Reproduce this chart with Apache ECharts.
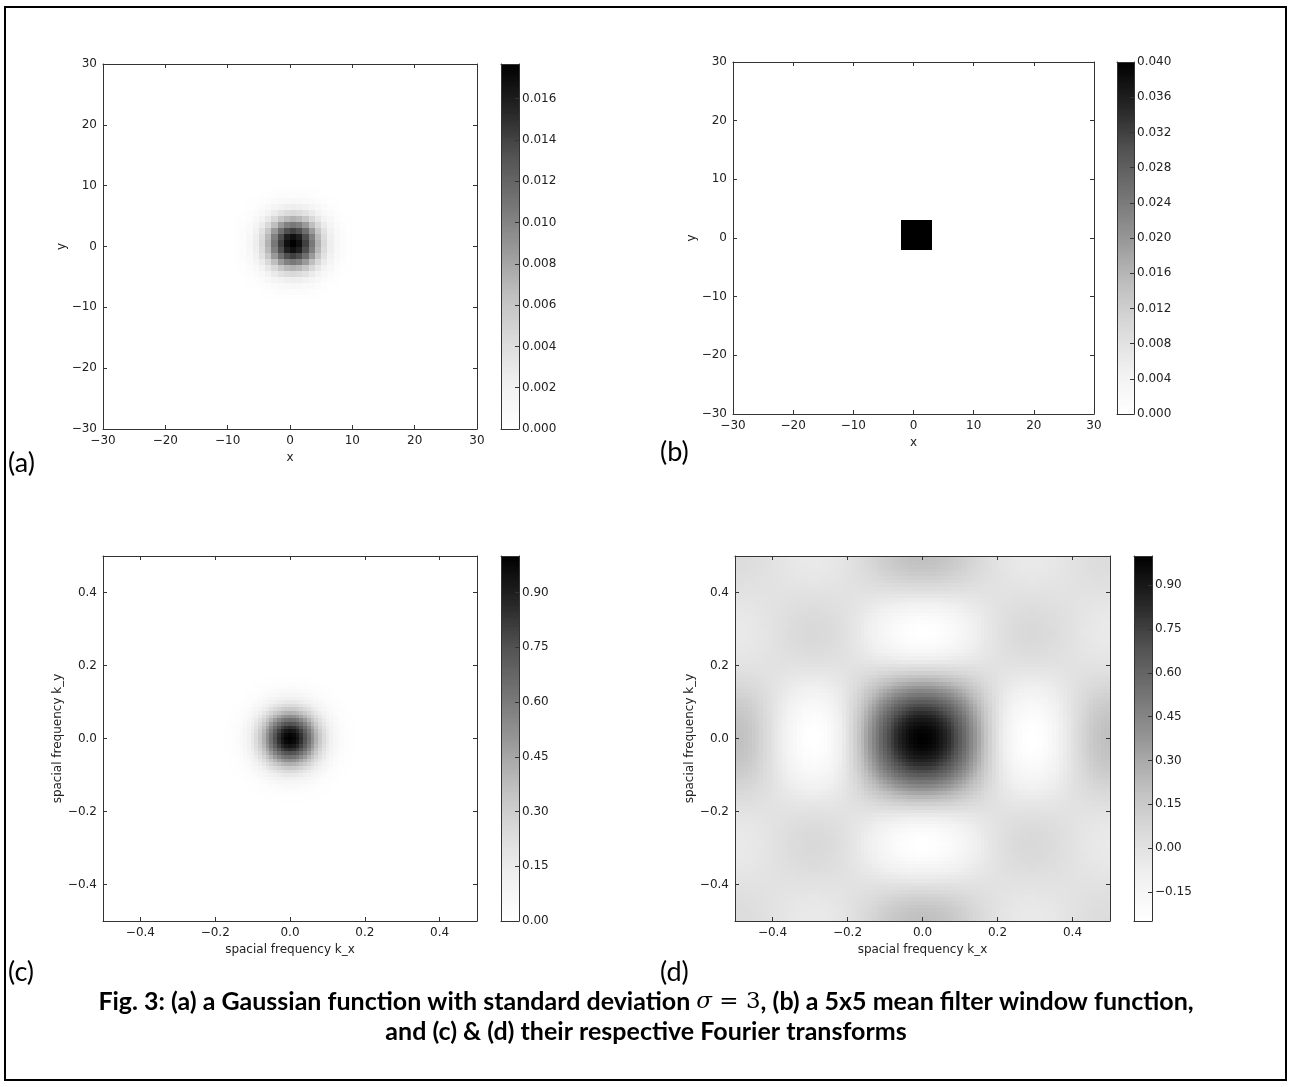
<!DOCTYPE html>
<html>
<head>
<meta charset="utf-8">
<script src="https://cdn.jsdelivr.net/npm/echarts@6.0.0/dist/echarts.min.js"></script>
<style>
  html, body { margin: 0; padding: 0; background: #fff; }
  #chart { width: 1292px; height: 1087px; }
</style>
</head>
<body>
<div id="chart"></div>
<script>
// ---- values ----
// (a) gaussian, sigma = 3: fall-off along one axis for |x| = 0..12 (0 further out)
const gaussProfile = [1, 0.946, 0.8007, 0.6065, 0.4111, 0.2494, 0.1353, 0.0657, 0.0286, 0.0111, 0.0039, 0.0012, 0.0003];
const gaussPeak = 0.01768;
// (b) 5x5 mean filter
const boxCells = [-2, -1, 0, 1, 2];
const boxValue = 0.04;
// (c) fourier transform of (a), along one axis for |k| = 0.00..0.50
const ftGaussProfile = [1, 0.9824, 0.9314, 0.8522, 0.7526, 0.6414, 0.5276, 0.4188, 0.3208, 0.2372,
  0.1692, 0.1165, 0.0774, 0.0497, 0.0307, 0.0184, 0.0106, 0.0059, 0.0032, 0.0016,
  0.0008, 0.0004, 0.0002, 0.0001, 0, 0, 0, 0, 0, 0,
  0, 0, 0, 0, 0, 0, 0, 0, 0, 0,
  0, 0, 0, 0, 0, 0, 0, 0, 0, 0, 0];
// (d) fourier transform of (b), along one axis for |k| = 0.00..0.50
const ftBoxProfile = [1, 0.9961, 0.9843, 0.9648, 0.938, 0.904, 0.8635, 0.8169, 0.7649, 0.708,
  0.6472, 0.5832, 0.5167, 0.4487, 0.38, 0.3115, 0.244, 0.1784, 0.1153, 0.0557,
  0, -0.051, -0.097, -0.1373, -0.1717, -0.2, -0.222, -0.2376, -0.2469, -0.25,
  -0.2472, -0.2388, -0.2253, -0.207, -0.1846, -0.1587, -0.1299, -0.0989, -0.0665, -0.0333,
  0, 0.0326, 0.0638, 0.093, 0.1197, 0.1432, 0.1631, 0.179, 0.1906, 0.1976, 0.2];

const spaceTicks = [-30, -20, -10, 0, 10, 20, 30];
const freqTicks = [-0.4, -0.2, 0, 0.2, 0.4];
const barTicksA = [0, 0.002, 0.004, 0.006, 0.008, 0.010, 0.012, 0.014, 0.016];
const barTicksB = [0, 0.004, 0.008, 0.012, 0.016, 0.020, 0.024, 0.028, 0.032, 0.036, 0.040];
const barTicksC = [0, 0.15, 0.30, 0.45, 0.60, 0.75, 0.90];
const barTicksD = [-0.15, 0, 0.15, 0.30, 0.45, 0.60, 0.75, 0.90];
const rangeA = [0, 0.01768];
const rangeB = [0, 0.04];
const rangeC = [0, 1];
const rangeD = [-0.25, 1];

// matplotlib "Greys"
const greys = ['#ffffff', '#f0f0f0', '#d9d9d9', '#bdbdbd', '#969696', '#737373', '#525252', '#252525', '#000000'];

// ---- build the grids of cells ----
let cellsA = [];
let cellsB = [];
for (let i = -30; i < 30; i++) {
    for (let j = -30; j < 30; j++) {
        let hx = gaussProfile[Math.abs(i)] || 0;
        let hy = gaussProfile[Math.abs(j)] || 0;
        cellsA.push([i, j, gaussPeak * hx * hy]);
        let inBox = boxCells.includes(i) && boxCells.includes(j);
        cellsB.push([i, j, inBox ? boxValue : 0]);
    }
}
let cellsC = [];
let cellsD = [];
for (let i = -50; i <= 50; i++) {
    for (let j = -50; j <= 50; j++) {
        let kx = i / 100, ky = j / 100;
        cellsC.push([kx, ky, ftGaussProfile[Math.abs(i)] * ftGaussProfile[Math.abs(j)]]);
        cellsD.push([kx, ky, ftBoxProfile[Math.abs(i)] * ftBoxProfile[Math.abs(j)]]);
    }
}
function barSlices(range) {
    let out = [];
    let n = 150;
    let step = (range[1] - range[0]) / n;
    for (let s = 0; s < n; s++) {
        let lo = range[0] + s * step;
        out.push([lo, lo + step, lo + step / 2]);
    }
    return out;
}

// ---- layout ----
const plots = [
    { box: [103, 64, 374, 365], bar: [501, 64, 18, 365], lim: [-30, 30], ticks: spaceTicks, digits: 0,
      xName: 'x', yName: 'y', cells: cellsA, w: 1, off: 0, range: rangeA, barTicks: barTicksA, barDigits: 3 },
    { box: [733, 62, 361, 352], bar: [1117, 62, 17, 352], lim: [-30, 30], ticks: spaceTicks, digits: 0,
      xName: 'x', yName: 'y', cells: cellsB, w: 1, off: 0, range: rangeB, barTicks: barTicksB, barDigits: 3 },
    { box: [103, 556, 374, 365], bar: [501, 556, 18, 365], lim: [-0.5, 0.5], ticks: freqTicks, digits: 1,
      xName: 'spacial frequency k_x', yName: 'spacial frequency k_y', cells: cellsC, w: 0.01, off: -0.005,
      range: rangeC, barTicks: barTicksC, barDigits: 2 },
    { box: [735, 556, 375, 365], bar: [1134, 556, 18, 365], lim: [-0.5, 0.5], ticks: freqTicks, digits: 1,
      xName: 'spacial frequency k_x', yName: 'spacial frequency k_y', cells: cellsD, w: 0.01, off: -0.005,
      range: rangeD, barTicks: barTicksD, barDigits: 2 }
];

const tickFont = { fontFamily: 'DejaVu Sans', fontSize: 12, color: '#222' };
const lineCol = '#333';

function fmt(digits) {
    return function (v) {
        let s = Number(v).toFixed(digits);
        if (Number(s) === 0) s = (0).toFixed(digits);
        return s.replace('-', '\u2212');
    };
}

function axis(gi, pos, lim, ticks, labelFmt, name, nameGap, withLabels, withTicks) {
    return {
        type: 'value', gridIndex: gi, position: pos, min: lim[0], max: lim[1], z: 10,
        axisLine: { show: true, onZero: false, lineStyle: { color: lineCol, width: 1 } },
        axisTick: { show: withTicks, inside: true, length: 4, customValues: ticks, lineStyle: { color: lineCol } },
        axisLabel: Object.assign({ show: withLabels, customValues: ticks, formatter: labelFmt, margin: 6 }, tickFont),
        splitLine: { show: false },
        name: name, nameLocation: 'middle', nameGap: nameGap,
        nameTextStyle: { fontFamily: 'DejaVu Sans', fontSize: 12, color: '#222' }
    };
}

// snap cell edges to whole pixels so neighbouring cells leave no seams
function cellRenderer(w, off) {
    return function (params, api) {
        let x = api.value(0) + off, y = api.value(1) + off;
        let p0 = api.coord([x, y + w]);
        let p1 = api.coord([x + w, y]);
        let x0 = Math.round(p0[0]), y0 = Math.round(p0[1]);
        let x1 = Math.round(p1[0]), y1 = Math.round(p1[1]);
        return {
            type: 'rect',
            shape: { x: x0, y: y0, width: x1 - x0, height: y1 - y0 },
            style: { fill: api.visual('color') }
        };
    };
}

function barRenderer(params, api) {
    let p0 = api.coord([0, api.value(1)]);
    let p1 = api.coord([1, api.value(0)]);
    let y0 = Math.round(p0[1]), y1 = Math.round(p1[1]);
    return {
        type: 'rect',
        shape: { x: p0[0], y: y0, width: p1[0] - p0[0], height: Math.max(y1 - y0, 1) },
        style: { fill: api.visual('color') }
    };
}

let grids = [], xAxes = [], yAxes = [], series = [], visualMaps = [];
plots.forEach(function (p, k) {
    let gi = grids.length;
    grids.push({ left: p.box[0], top: p.box[1], width: p.box[2], height: p.box[3] });
    let f = fmt(p.digits);
    let xi = xAxes.length, yi = yAxes.length;
    xAxes.push(axis(gi, 'bottom', p.lim, p.ticks, f, p.xName, 23, true, true));
    xAxes.push(axis(gi, 'top', p.lim, p.ticks, f, '', 0, false, true));
    yAxes.push(Object.assign(axis(gi, 'left', p.lim, p.ticks, f, p.yName, 35, true, true), { nameRotate: 90 }));
    yAxes.push(axis(gi, 'right', p.lim, p.ticks, f, '', 0, false, true));

    let bi = grids.length;
    grids.push({ left: p.bar[0], top: p.bar[1], width: p.bar[2], height: p.bar[3] });
    let bxi = xAxes.length, byi = yAxes.length;
    xAxes.push(axis(bi, 'bottom', [0, 1], [], null, '', 0, false, false));
    xAxes.push(axis(bi, 'top', [0, 1], [], null, '', 0, false, false));
    yAxes.push(axis(bi, 'right', p.range, p.barTicks, fmt(p.barDigits), '', 0, true, true));
    yAxes.push(axis(bi, 'left', p.range, [], null, '', 0, false, false));
    yAxes[byi].axisLabel.margin = 3;

    let si = series.length;
    series.push({
        type: 'custom', xAxisIndex: xi, yAxisIndex: yi, data: p.cells, clip: true,
        renderItem: cellRenderer(p.w, p.off), progressive: 0, silent: true
    });
    series.push({
        type: 'custom', xAxisIndex: bxi, yAxisIndex: byi, data: barSlices(p.range), clip: true,
        renderItem: barRenderer, progressive: 0, silent: true
    });
    visualMaps.push({
        type: 'continuous', show: false, seriesIndex: [si, si + 1], dimension: 2,
        min: p.range[0], max: p.range[1], inRange: { color: greys }
    });
});

const labelFont = { fontFamily: 'Lato', fontSize: 27, fill: '#000' };
function panelLabel(text, x, y) {
    return { type: 'text', style: Object.assign({ text: text, x: x, y: y, textVerticalAlign: 'middle' }, labelFont) };
}

let option = {
    animation: false,
    backgroundColor: '#fff',
    grid: grids,
    xAxis: xAxes,
    yAxis: yAxes,
    visualMap: visualMaps,
    series: series,
    graphic: [
        { type: 'rect', shape: { x: 5, y: 7, width: 1281, height: 1073 },
          style: { fill: null, stroke: '#000', lineWidth: 2 } },
        panelLabel('(a)', 8, 463),
        panelLabel('(b)', 660, 452),
        panelLabel('(c)', 8, 972),
        panelLabel('(d)', 660, 972),
        {
            type: 'text',
            style: {
                text: '{b|Fig. 3: (a) a Gaussian function with standard deviation }{m|\u03c3}{r| = 3}{b|, (b) a 5x5 mean filter window function,}',
                x: 646, y: 1002, textAlign: 'center', textVerticalAlign: 'middle',
                rich: {
                    b: { fontFamily: 'Lato', fontWeight: 'bold', fontSize: 25, fill: '#000' },
                    m: { fontFamily: 'DejaVu Serif', fontStyle: 'italic', fontSize: 23, fill: '#000' },
                    r: { fontFamily: 'DejaVu Serif', fontSize: 23, fill: '#000' }
                }
            }
        },
        {
            type: 'text',
            style: {
                text: 'and (c) & (d) their respective Fourier transforms',
                x: 646, y: 1032, textAlign: 'center', textVerticalAlign: 'middle',
                fontFamily: 'Lato', fontWeight: 'bold', fontSize: 25, fill: '#000'
            }
        }
    ]
};

let chart = echarts.init(document.getElementById('chart'));
chart.setOption(option);
</script>
</body>
</html>
